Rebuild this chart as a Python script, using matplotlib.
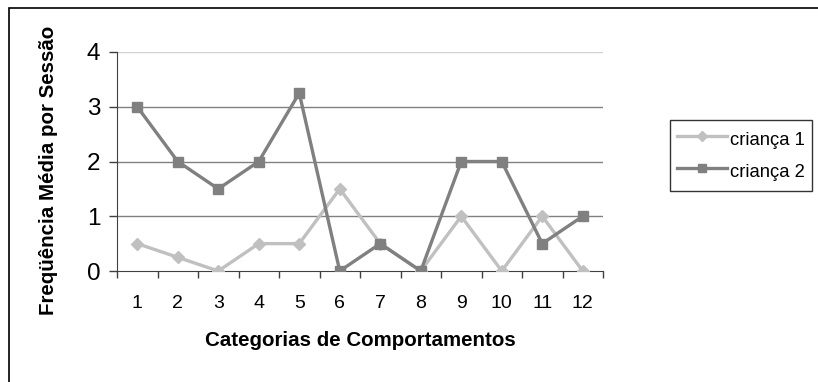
import matplotlib.pyplot as plt
from matplotlib.patches import Rectangle

plt.rcParams['font.family'] = ['Liberation Sans', 'DejaVu Sans']

categorias = list(range(1, 13))
crianca1 = [0.5, 0.25, 0, 0.5, 0.5, 1.5, 0.5, 0, 1, 0, 1, 0]
crianca2 = [3, 2, 1.5, 2, 3.25, 0, 0.5, 0, 2, 2, 0.5, 1]
yticks = [0, 1, 2, 3, 4]

fig = plt.figure(figsize=(8.18, 3.82), dpi=100)
ax = fig.add_axes([117/818, 1 - 271/382, (603 - 117)/818, (271 - 52)/382])

# outer chart border (right and bottom run off the canvas)
fig.patches.append(Rectangle((9/818, -0.2), 1.2, 1 - 7.5/382 + 0.2,
                             transform=fig.transFigure, fill=False,
                             edgecolor='black', linewidth=1.2))

for y in yticks[1:4]:
    ax.axhline(y, color='#808080', linewidth=1.0, zorder=1)
ax.axhline(4, color='#d0d0d0', linewidth=1.0, zorder=1)

ax.plot(categorias, crianca1, color='#c0c0c0', linewidth=2.4, marker='D',
        markersize=6.5, label='criança 1', zorder=3)
ax.plot(categorias, crianca2, color='#808080', linewidth=2.4, marker='s',
        markersize=7, label='criança 2', zorder=4)

ax.set_xlim(0.5, 12.5)
ax.set_ylim(0, 4)
ax.set_yticks(yticks)
ax.set_xticks(categorias)
ax.set_xticks([c - 0.5 for c in categorias] + [12.5], minor=True)
ax.tick_params(axis='x', which='major', length=0, labelsize=14, pad=17)
ax.tick_params(axis='x', which='minor', length=5, width=1, color='#404040', direction='out')
ax.tick_params(axis='y', length=6, width=1, color='#404040', labelsize=17.5, pad=6)

for side in ['top', 'right']:
    ax.spines[side].set_visible(False)
ax.spines['left'].set_color('#404040')
ax.spines['bottom'].set_color('#404040')

fig.text(0.5 * (117 + 603) / 818, 1 - 341/382, 'Categorias de Comportamentos',
         ha='center', va='center', fontsize=14.8, fontweight='bold')
fig.text(49/818, 1 - 170/382, 'Freqüência Média por Sessão', rotation=90,
         ha='center', va='center', fontsize=14.8, fontweight='bold')

leg = fig.legend(loc='upper left', bbox_to_anchor=(670/818, 1 - 120/382),
                 fontsize=13.3, frameon=True, fancybox=False, handlelength=2.7,
                 handleheight=1.6, handletextpad=0.15, borderpad=0.4,
                 labelspacing=0.45, borderaxespad=0, markerscale=0.85)
leg.get_frame().set_edgecolor('black')
leg.get_frame().set_linewidth(1.0)

fig.savefig('out.png', dpi=100)
